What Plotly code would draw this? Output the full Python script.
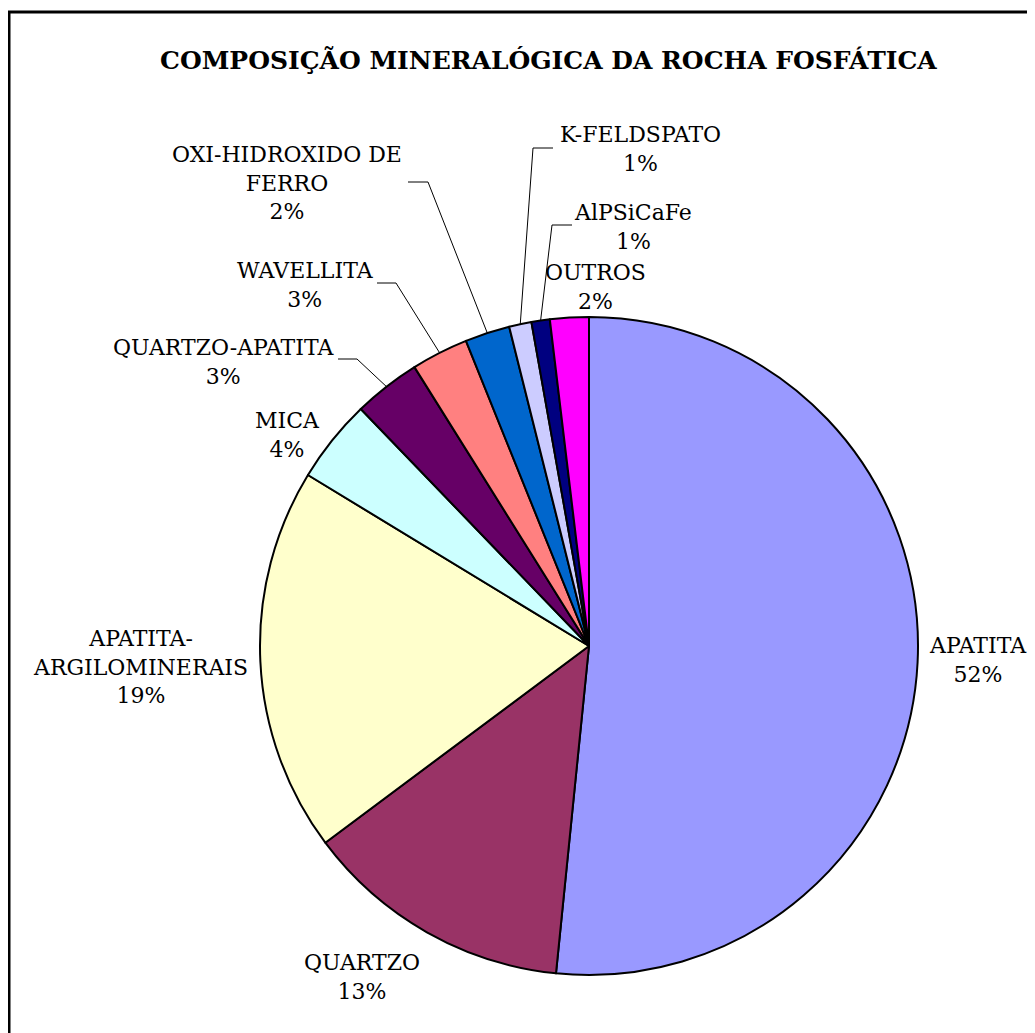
import math
import plotly.graph_objects as go

# Data (percent shares)
minerals = ['APATITA', 'QUARTZO', 'APATITA-<br>ARGILOMINERAIS', 'MICA', 'QUARTZO-APATITA',
            'WAVELLITA', 'OXI-HIDROXIDO DE<br>FERRO', 'K-FELDSPATO', 'AlPSiCaFe', 'OUTROS']
shares = [51.6, 13.2, 18.9, 4.1, 3.3, 2.8, 2.2, 1.1, 0.9, 1.9]
colours = ['#9999FF', '#993366', '#FFFFCC', '#CCFFFF', '#660066',
           '#FF8080', '#0066CC', '#CCCCFF', '#000080', '#FF00FF']

title = 'COMPOSIÇÃO MINERALÓGICA DA ROCHA FOSFÁTICA'

W, H = 1035, 1033
OFF = 8  # page body margin of the html output

# pie geometry in page pixels
cx, cy, r = 589, 646, 329

# label centres (page px) and optional leader elbow (label end -> elbow)
labelPos = {
    'APATITA': (978, 660, None),
    'QUARTZO': (362, 977, None),
    'APATITA-<br>ARGILOMINERAIS': (140, 667, None),
    'MICA': (287, 435, None),
    'QUARTZO-APATITA': (223, 362, ((338, 359), (357, 359))),
    'WAVELLITA': (305, 285, ((377, 283), (396, 283))),
    'OXI-HIDROXIDO DE<br>FERRO': (287, 183, ((408, 182), (428, 182))),
    'K-FELDSPATO': (640, 149, ((553, 148), (533, 148))),
    'AlPSiCaFe': (633, 227, ((572, 225), (552, 225))),
    'OUTROS': (595, 287, None),
}


def px(x):
    return (x - OFF) / W


def py(y):
    return 1 - (y - OFF) / H


fig = go.Figure(go.Pie(
    labels=minerals, values=shares, sort=False, direction='clockwise', rotation=0,
    marker=dict(colors=colours, line=dict(color='black', width=2)),
    textinfo='none', hoverinfo='label+percent', showlegend=False,
    domain=dict(x=[px(cx - r), px(cx + r)], y=[py(cy + r), py(cy - r)]),
))

total = sum(shares)
annotations = []
shapes = []
cum = 0
for name, v in zip(minerals, shares):
    mid = (cum + v / 2) / total * 2 * math.pi
    cum += v
    ex, ey = cx + r * math.sin(mid), cy - r * math.cos(mid)
    lx, ly, leader = labelPos[name]
    annotations.append(dict(
        x=px(lx), y=py(ly), xref='paper', yref='paper', showarrow=False,
        text=f'{name}<br>{round(v / total * 100)}%', align='center',
        xanchor='center', yanchor='middle',
        font=dict(family='DejaVu Serif', size=22, color='black')))
    if leader:
        (x0, y0), (x1, y1) = leader
        path = f'M {px(x0)},{py(y0)} L {px(x1)},{py(y1)} L {px(ex)},{py(ey)}'
        shapes.append(dict(type='path', path=path, xref='paper', yref='paper',
                           line=dict(color='black', width=1)))

# chart frame
shapes.append(dict(type='rect', xref='paper', yref='paper', x0=px(9), y0=py(1060),
                   x1=px(1033), y1=py(12), line=dict(color='black', width=3)))

annotations.append(dict(
    x=px(548), y=py(61), xref='paper', yref='paper', showarrow=False,
    text=f'<b>{title}</b>', xanchor='center', yanchor='middle',
    font=dict(family='DejaVu Serif', size=25, color='black')))

fig.update_layout(
    width=W, height=H, margin=dict(l=0, r=0, t=0, b=0),
    paper_bgcolor='white', plot_bgcolor='white',
    annotations=annotations, shapes=shapes,
)

fig.write_html('out.html')
